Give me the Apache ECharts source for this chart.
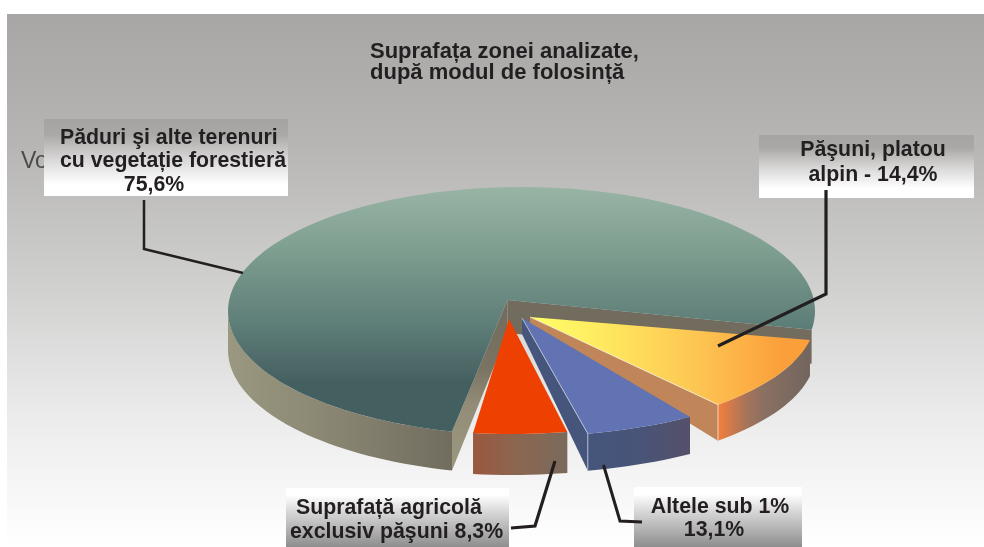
<!DOCTYPE html>
<html>
<head>
<meta charset="utf-8">
<title>Suprafata zonei analizate</title>
<script src="https://cdn.jsdelivr.net/npm/echarts@6/dist/echarts.min.js"></script>
<style>
  html, body { margin: 0; padding: 0; background: #fff; }
  #main { width: 984px; height: 547px; }
</style>
</head>
<body>
<div id="main"></div>
<script>
// date
const categories = ["Păduri şi alte terenuri cu vegetație forestieră", "Pășuni, platou alpin", "Altele sub 1%", "Suprafață agricolă exclusiv pășuni"];
const labelValues = [75.6, 14.4, 13.1, 8.3];
// felia desenata in poza nu respecta etichetele, deci cota vizibila e citita separat
const sliceShares = [73.6, 10.4, 5.8, 5.2];

const FONT = '"Liberation Sans", Arial, sans-serif';
const INK = "#231f20";
const LABEL_SIZE = 21.3;

// geometria pseudo-3D a fiecarei felii
const sliceGeom = [
  { ax: 507.5, ay: 300, cx: 521.5, cy: 311, a: 293.5, b: 124, start: 103.7, depth: 39, wallTo: 180 },
  { ax: 530, ay: 317, cx: 530, cy: 317, a: 285.6, b: 116.4, start: 11.4, depth: 36 },
  { ax: 522, ay: 318, cx: 522, cy: 318, a: 306, b: 118.4, start: 56.7, depth: 37 },
  { ax: 509, ay: 319, cx: 512, cy: 319, a: 290, b: 115, start: 79, depth: 41 },
];

function hGrad(stops) {
  return new echarts.graphic.LinearGradient(0, 0, 1, 0, stops.map(s => ({ offset: s[0], color: s[1] })));
}
function vGrad(stops) {
  return new echarts.graphic.LinearGradient(0, 0, 0, 1, stops.map(s => ({ offset: s[0], color: s[1] })));
}

const sliceStyle = [
  {
    top: vGrad([[0, "#98b4a5"], [0.25, "#7f9f91"], [0.55, "#5f7f79"], [0.8, "#445f60"], [1, "#445f60"]]),
    wall: hGrad([[0, "#9a9880"], [0.5, "#888471"], [1, "#716c5e"]]),
    cuts: [
      { at: "end", apexDepth: 33, depth: 34, fill: "#716c5e" },
      { at: "start", apexDepth: 33, depth: 39, fill: vGrad([[0, "#716c5e"], [0.4, "#7a7363"], [0.62, "#938d78"], [1, "#9a9880"]]) },
    ],
  },
  {
    top: hGrad([[0, "#ffff66"], [0.2, "#ffef62"], [0.6, "#fdc552"], [0.9, "#fb9f3a"], [1, "#fb9f3a"]]),
    wall: hGrad([[0, "#f47f3c"], [0.3, "#a8745a"], [0.5, "#8a7062"], [1, "#72655e"]]),
    cuts: [{ at: "end", apexDepth: 8, fill: "#c08558", edge: "#f4ece0" }],
  },
  {
    top: "#6273b3",
    wall: hGrad([[0, "#45557b"], [0.5, "#485478"], [1, "#55506a"]]),
    cuts: [{ at: "end", apexDepth: 16, fill: "#46557c", edge: "#c9cfe0" }],
  },
  {
    top: "#ee4000",
    wall: hGrad([[0, "#99583e"], [0.45, "#8c6650"], [1, "#7a6a5c"]]),
    cuts: [],
  },
];

function ptAt(g, deg) {
  const r = deg * Math.PI / 180;
  return [g.cx + g.a * Math.cos(r), g.cy + g.b * Math.sin(r)];
}
function arcPts(g, from, to) {
  const pts = [];
  const n = Math.max(2, Math.ceil(Math.abs(to - from) / 2));
  for (let i = 0; i <= n; i++) pts.push(ptAt(g, from + (to - from) * i / n));
  return pts;
}
const down = (p, d) => [p[0], p[1] + d];

function renderSlice(params, api) {
  const i = params.dataIndex;
  const g = sliceGeom[i];
  const st = sliceStyle[i];
  const sweep = api.value(1) * 3.6;
  const t0 = g.start;
  const t1 = g.start + sweep;
  const apex = [g.ax, g.ay];
  const children = [];

  // peretii taieturii
  st.cuts.forEach(c => {
    const p = ptAt(g, c.at === "start" ? t0 : t1);
    const d = c.depth || g.depth;
    children.push({
      type: "polygon",
      shape: { points: [apex, p, down(p, d), down(apex, c.apexDepth)] },
      style: { fill: c.fill },
    });
    if (c.edge) {
      children.push({
        type: "polyline",
        z2: 5,
        shape: { points: [apex, p, down(p, d)] },
        style: { stroke: c.edge, lineWidth: 1, fill: null, opacity: 0.8 },
      });
    }
  });

  // peretele exterior
  const wallEnd = g.wallTo || t1;
  const wallTop = arcPts(g, t0, wallEnd);
  const wallBottom = wallTop.map(p => down(p, g.depth)).reverse();
  children.push({
    type: "polygon",
    shape: { points: wallTop.concat(wallBottom) },
    style: { fill: st.wall },
  });

  // fata de sus
  children.push({
    type: "polygon",
    z2: 3,
    shape: { points: [apex].concat(arcPts(g, t0, t1)) },
    style: { fill: st.top },
  });

  return { type: "group", children: children };
}

function boxFill(inverted) {
  return inverted
    ? vGrad([[0, "#ffffff"], [0.12, "#ffffff"], [0.4, "#d8d8d8"], [1, "#8e8e8e"]])
    : vGrad([[0, "#a6a4a2"], [0.2, "#aaa8a6"], [0.55, "#dcdbdb"], [0.85, "#ffffff"], [1, "#ffffff"]]);
}
function box(x, y, w, h, inverted) {
  return { type: "rect", z: 10, shape: { x: x, y: y, width: w, height: h }, style: { fill: boxFill(inverted) } };
}
function txt(str, x, y, size, align) {
  return {
    type: "text", z: 12, x: x, y: y,
    style: { text: str, font: "bold " + size + "px " + FONT, fill: INK, textAlign: align || "left", textVerticalAlign: "middle" },
  };
}
function leader(points, w) {
  return { type: "polyline", z: 11, shape: { points: points }, style: { stroke: INK, lineWidth: w || 3, fill: null } };
}

const chart = echarts.init(document.getElementById("main"), null, { renderer: "canvas" });

const pct = labelValues.map(v => v.toFixed(1).replace(".", ",") + "%");

chart.setOption({
  animation: false,
  backgroundColor: "#ffffff",
  graphic: [
    {
      type: "rect", z: 0,
      shape: { x: 7, y: 14, width: 977, height: 533 },
      style: { fill: vGrad([[0, "#a8a6a4"], [0.25, "#b7b6b5"], [0.5, "#cfcfce"], [0.75, "#ebebeb"], [1, "#ffffff"]]) },
    },
    {
      type: "text", z: 1, x: 21, y: 162,
      style: { text: "Volum", font: "23px " + FONT, fill: "#4a4a4a", textVerticalAlign: "middle" },
    },

    txt("Suprafața zonei analizate,", 370, 52, 22),
    txt("după modul de folosință", 370, 73, 22),

    box(44, 119, 244, 77, false),
    txt("Păduri şi alte terenuri", 60, 138, LABEL_SIZE),
    txt("cu vegetație forestieră", 60, 161, LABEL_SIZE),
    txt(pct[0], 154, 185, LABEL_SIZE, "center"),

    box(759, 135, 215, 63, false),
    txt("Păşuni, platou", 873, 150, LABEL_SIZE, "center"),
    txt("alpin - " + pct[1], 873, 175, LABEL_SIZE, "center"),

    box(286, 488, 223, 59, true),
    txt("Suprafață agricolă", 296, 508, LABEL_SIZE),
    txt("exclusiv păşuni " + pct[3], 290, 532, LABEL_SIZE),

    box(634, 487, 168, 60, true),
    txt("Altele sub 1%", 720, 507, LABEL_SIZE, "center"),
    txt(pct[2], 714, 530, LABEL_SIZE, "center"),

    leader([[144, 200], [144, 249], [243, 273]], 2.5),
    leader([[826, 190], [826, 294], [718, 346]], 3.2),
    leader([[555, 461], [535, 526], [511, 528]], 3.2),
    leader([[603.5, 465], [620, 521], [642, 522]], 3),
  ],
  series: [
    {
      type: "custom",
      name: "Suprafata",
      coordinateSystem: "none",
      silent: true,
      z: 2,
      renderItem: renderSlice,
      data: sliceShares.map((v, i) => ({ name: categories[i], value: [i, v] })),
    },
  ],
});
</script>
</body>
</html>
